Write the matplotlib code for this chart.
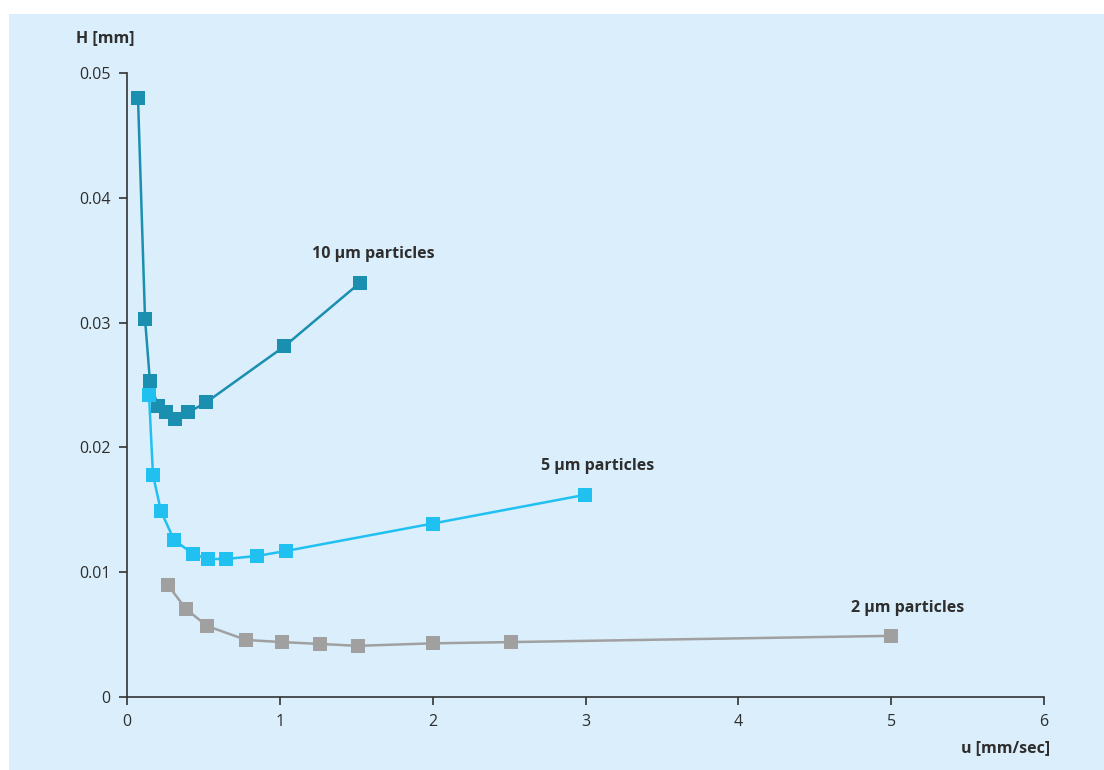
import numpy as np
import matplotlib
matplotlib.use('Agg')
import matplotlib.pyplot as plt
from matplotlib.patches import Rectangle

# flow velocity u [mm/sec] and plate height H [mm] for the three particle sizes
u_10 = [0.072, 0.118, 0.15, 0.203, 0.255, 0.314, 0.40, 0.517, 1.03, 1.525]
h_10 = [0.0480, 0.0303, 0.0253, 0.0233, 0.0228, 0.0223, 0.0228, 0.0236, 0.0281, 0.0332]

u_5 = [0.144, 0.17, 0.222, 0.307, 0.432, 0.53, 0.648, 0.85, 1.04, 2.0, 2.997]
h_5 = [0.0242, 0.0178, 0.0149, 0.0126, 0.01146, 0.01106, 0.01106, 0.0113, 0.0117, 0.0139, 0.0162]

u_2 = [0.268, 0.386, 0.524, 0.78, 1.014, 1.263, 1.51, 2.0, 2.51, 5.0]
h_2 = [0.00897, 0.00705, 0.00569, 0.00457, 0.0044, 0.00425, 0.0041, 0.0043, 0.0044, 0.0049]

x_ticks = [0, 1, 2, 3, 4, 5, 6]
y_ticks = [0, 0.01, 0.02, 0.03, 0.04, 0.05]
y_tick_labels = ['0', '0.01', '0.02', '0.03', '0.04', '0.05']

bg = '#daeefb'
txt = '#2e2e2e'
plt.rcParams['font.family'] = ['Open Sans', 'DejaVu Sans']

fig = plt.figure(figsize=(11.04, 7.70), dpi=100)
fig.patch.set_facecolor('white')
fig.add_artist(Rectangle((9 / 1104, 0), 1 - 9 / 1104, 1 - 14 / 770,
                         transform=fig.transFigure, facecolor=bg,
                         edgecolor='none', zorder=-10))

ax = fig.add_axes([127 / 1104, 1 - 697 / 770, (1044 - 127) / 1104, (697 - 73) / 770])
ax.set_facecolor('none')
ax.set_zorder(5)

series = [
    (u_10, h_10, '#1a8fb0', '10 µm particles', (1.61, 0.0355)),
    (u_5, h_5, '#20c1f0', '5 µm particles', (3.08, 0.0185)),
    (u_2, h_2, '#a0a0a0', '2 µm particles', (5.11, 0.00713)),
]
for u, h, c, lab, pos in series:
    ax.plot(u, h, color=c, lw=1.8, marker='s', markersize=10,
            markeredgewidth=0, clip_on=False)
    ax.text(pos[0], pos[1], lab, ha='center', va='center', fontsize=11.5,
            fontweight='bold', color=txt)

ax.set_xlim(0, 6)
ax.set_ylim(0, 0.05)
ax.set_xticks(x_ticks)
ax.set_yticks(y_ticks)
ax.set_yticklabels(y_tick_labels)
ax.tick_params(axis='both', direction='out', length=6, width=1.2, color='#333333',
               labelsize=11.5, labelcolor=txt, pad=6)
for s in ['top', 'right']:
    ax.spines[s].set_visible(False)
for s in ['left', 'bottom']:
    ax.spines[s].set_color('#333333')
    ax.spines[s].set_linewidth(1.2)

fig.text(105 / 1104, 1 - 38 / 770, 'H [mm]', ha='center', va='center',
         fontsize=11.5, fontweight='bold', color=txt)
fig.text(1050 / 1104, 1 - 748 / 770, 'u [mm/sec]', ha='right', va='center',
         fontsize=11.5, fontweight='bold', color=txt)

fig.savefig('out.png', dpi=100, facecolor=fig.get_facecolor())
